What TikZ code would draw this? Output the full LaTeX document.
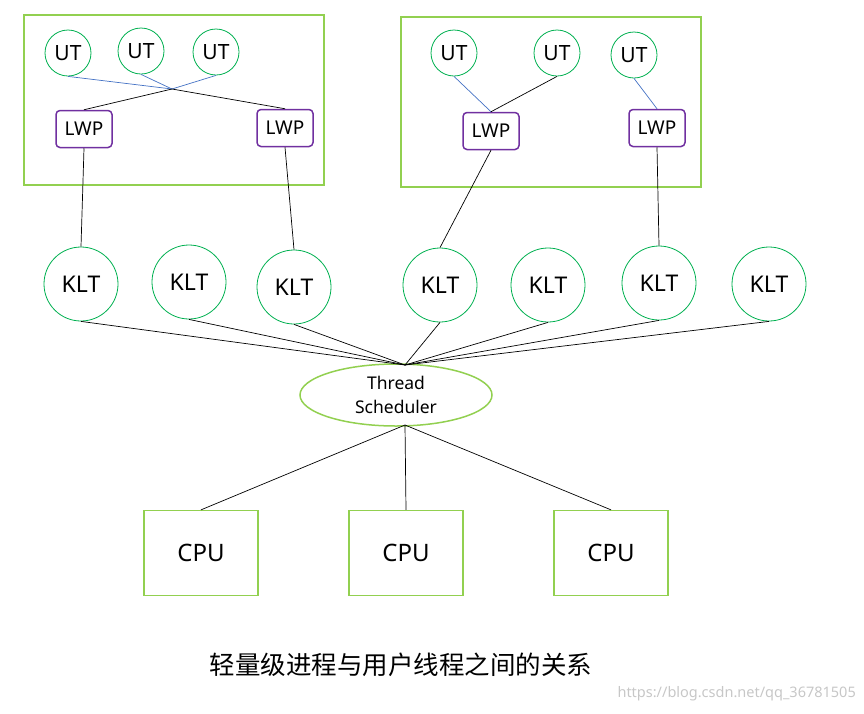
\documentclass[tikz,border=0pt]{standalone}
\usepackage{fontspec}
\setmainfont{Noto Sans}
\newfontfamily\cjk{Noto Sans CJK SC}
\usetikzlibrary{shapes.geometric}
\begin{document}
\begin{tikzpicture}[x=1pt,y=-1pt,
  ut/.style={circle,draw={rgb,255:red,0;green,176;blue,80},line width=0.8pt,minimum size=46pt,inner sep=0pt,font=\fontsize{21}{21}\selectfont},
  lwp/.style={draw={rgb,255:red,112;green,48;blue,160},line width=1.5pt,rounded corners=4pt,minimum width=56pt,minimum height=37pt,inner sep=0pt,font=\fontsize{19}{19}\selectfont},
  klt/.style={circle,draw={rgb,255:red,0;green,176;blue,80},line width=0.8pt,minimum size=74pt,inner sep=0pt,font=\fontsize{23}{23}\selectfont},
  cpu/.style={draw={rgb,255:red,146;green,208;blue,80},line width=1.3pt,minimum width=114pt,minimum height=85pt,inner sep=0pt,font=\fontsize{24}{24}\selectfont},
  grp/.style={draw={rgb,255:red,146;green,208;blue,80},line width=1.5pt},
  bl/.style={draw={rgb,255:red,68;green,114;blue,196},line width=0.7pt},
  ln/.style={draw=black,line width=0.7pt}]
\useasboundingbox (0,0) rectangle (864,713);
\draw[grp] (24,15) rectangle (324,185);
\draw[grp] (401,17) rectangle (701,187);
\node[ut] (u1) at (68,53) {UT};
\node[ut] (u2) at (141,51) {UT};
\node[ut] (u3) at (216,52) {UT};
\node[ut] (u4) at (454,53) {UT};
\node[ut] (u5) at (557,53) {UT};
\node[ut] (u6) at (634,55) {UT};
\node[lwp] (l1) at (84,129) {LWP};
\node[lwp] (l2) at (285,128) {LWP};
\node[lwp] (l3) at (491,131) {LWP};
\node[lwp] (l4) at (657,128) {LWP};
\coordinate (x) at (172,89);
\draw[bl] (u1.south) -- (x);
\draw[bl] (u2.south) -- (x);
\draw[bl] (u3.south) -- (x);
\draw[ln] (x) -- (l1.north);
\draw[ln] (x) -- (l2.north);
\draw[bl] (u4.south) -- (l3.north);
\draw[ln] (u5.south) -- (l3.north);
\draw[bl] (u6.south) -- (l4.north);
\node[klt] (k1) at (81,284) {KLT};
\node[klt] (k2) at (189,282) {KLT};
\node[klt] (k3) at (294,287) {KLT};
\node[klt] (k4) at (440,285) {KLT};
\node[klt] (k5) at (548,285) {KLT};
\node[klt] (k6) at (659,283) {KLT};
\node[klt] (k7) at (769,284) {KLT};
\draw[ln] (l1.south) -- (k1.north);
\draw[ln] (l2.south) -- (k3.north);
\draw[ln] (l3.south) -- (k4.north);
\draw[ln] (l4.south) -- (k6.north);
\node[ellipse,draw={rgb,255:red,146;green,208;blue,80},line width=1.5pt,minimum width=192pt,minimum height=62pt,inner sep=0pt,align=center,font=\fontsize{17.5}{24}\selectfont] (ts) at (396,395) {Thread\\Scheduler};
\coordinate (tt) at (405,365);
\coordinate (tb) at (405,425);
\foreach \k in {k1,k2,k3,k4,k5,k6,k7} \draw[ln] (\k.south) -- (tt);
\node[cpu] (c1) at (201,553) {CPU};
\node[cpu] (c2) at (406,553) {CPU};
\node[cpu] (c3) at (611,553) {CPU};
\foreach \c in {c1,c2,c3} \draw[ln] (tb) -- (\c.north);
\node[font=\cjk\fontsize{25.5}{26}\selectfont] (cap) at (401,665) {轻量级进程与用户线程之间的关系};
\node[font=\fontsize{14.5}{15}\selectfont,text=black!22,anchor=east,inner sep=0pt] (wm) at (856,694) {https://blog.csdn.net/qq\_36781505};
\end{tikzpicture}
\end{document}
